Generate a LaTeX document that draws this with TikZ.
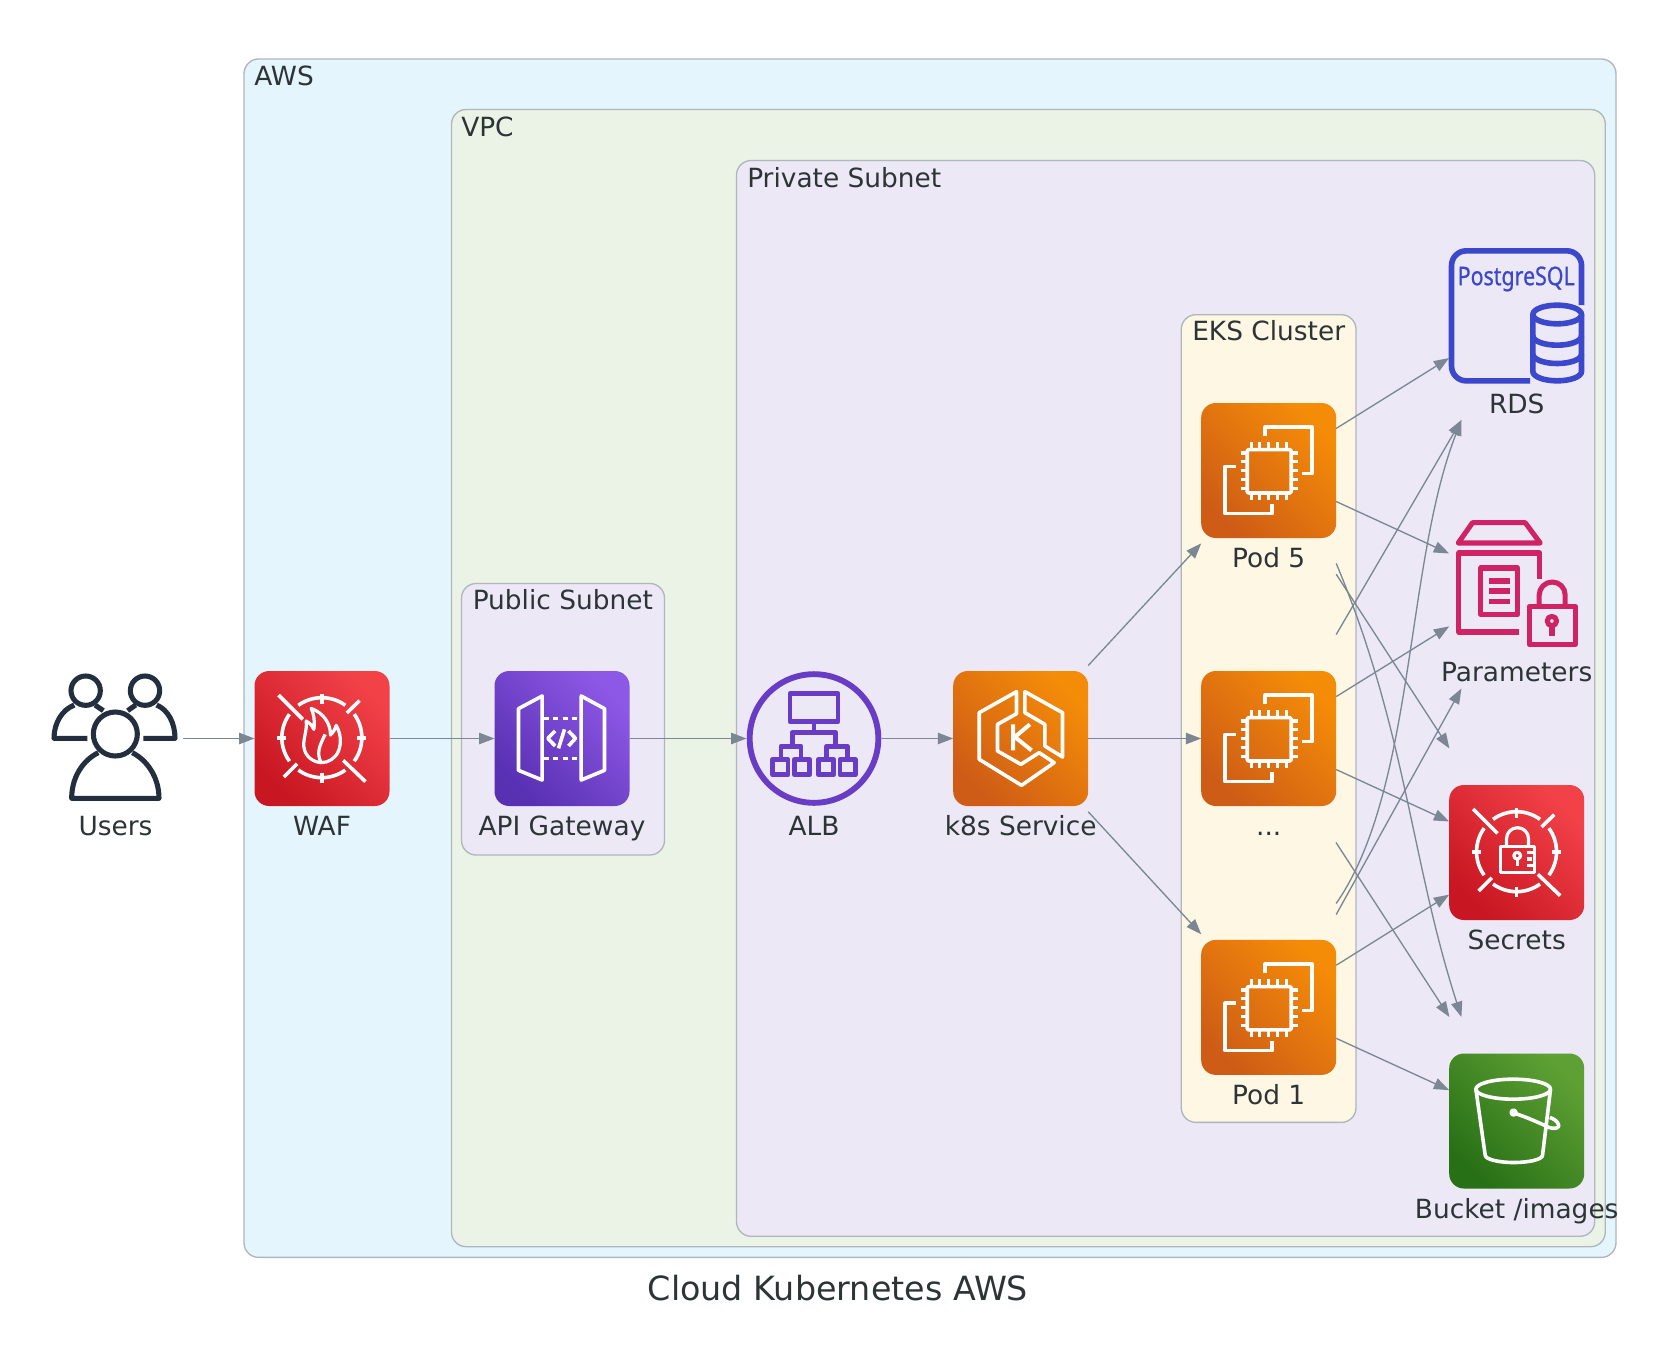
\documentclass[tikz,border=0pt]{standalone}
\usepackage{fontspec}
\setmainfont{DejaVu Sans}
\newfontfamily\pgfont[FakeBold=0.8]{Noto Sans}
\usetikzlibrary{arrows.meta}
\definecolor{inktext}{HTML}{2D3436}
\definecolor{flowline}{HTML}{7B8894}
\definecolor{groupline}{HTML}{AEB6BE}
\definecolor{awsbg}{HTML}{E5F5FD}
\definecolor{vpcbg}{HTML}{EBF3E7}
\definecolor{subnetbg}{HTML}{ECE8F6}
\definecolor{eksbg}{HTML}{FDF7E3}
\definecolor{usersink}{HTML}{232F3E}
\definecolor{albink}{HTML}{693CC5}
\definecolor{rdsink}{HTML}{3B48CC}
\definecolor{paramink}{HTML}{CF2366}
\definecolor{redlow}{RGB}{200,22,34}
\definecolor{redhigh}{RGB}{242,66,72}
\definecolor{orangelow}{RGB}{206,92,22}
\definecolor{orangehigh}{RGB}{245,140,8}
\definecolor{purplelow}{RGB}{88,48,178}
\definecolor{purplehigh}{RGB}{142,88,230}
\definecolor{greenlow}{RGB}{40,112,22}
\definecolor{greenhigh}{RGB}{94,160,52}
\tikzset{
    hold/.style={rectangle,minimum width=101.25pt,minimum height=156pt,inner sep=0pt,outer sep=0pt},
    iconlbl/.style={anchor=base,inner sep=0pt,text=inktext,font=\fontsize{19.8pt}{24pt}\selectfont},
    grouplbl/.style={anchor=base west,inner sep=0pt,text=inktext,font=\fontsize{19.8pt}{24pt}\selectfont},
    groupbox/.style={draw=groupline,line width=1pt,rounded corners=11pt},
    flow/.style={draw=flowline,line width=1pt,-{Triangle[length=11.5pt,width=8.5pt]}},
    glyph/.style={x=.25pt,y=-.25pt,shift={(-202.5,-202.5)}},
    wline/.style={draw=white,line width=2.7pt,line join=round},
    redtile/.style={rounded corners=11pt,bottom color=redlow,top color=redhigh,shading angle=-45},
    orangetile/.style={rounded corners=11pt,bottom color=orangelow,top color=orangehigh,shading angle=-45},
    purpletile/.style={rounded corners=11pt,bottom color=purplelow,top color=purplehigh,shading angle=-45},
    greentile/.style={rounded corners=11pt,bottom color=greenlow,top color=greenhigh,shading angle=-45},
    reticle/.pic={
        \foreach \a in {0,90,180,270}
            \draw[wline] (202,200) ++(\a-36:120) arc[start angle=\a-36,end angle=\a+36,radius=120];
        \draw[wline] (202,68) -- (202,98) (202,305) -- (202,335) (68,201) -- (95,201) (308,201) -- (335,201);
        \draw[wline] (72,72) -- (145,145) (266,268) -- (333,332) (277,126) -- (315,89) (88,318) -- (128,278);
    },
    usersicon/.pic={
        \begin{scope}[x=.25pt,y=-.25pt,shift={(-211.5,-205.5)},draw=usersink,line width=3.8pt,line join=round]
            \draw (122,62) circle (44);
            \draw (300,62) circle (44);
            \draw (211,192) circle (66);
            \draw (127,205) -- (27,205) .. controls (27,160) and (50,120) .. (88,105);
            \draw (150,105) -- (175,122);
            \draw (295,205) -- (390,205) .. controls (390,160) and (370,120) .. (335,105);
            \draw (272,105) -- (248,122);
            \draw (160,248) .. controls (115,270) and (80,320) .. (80,385) -- (342,385) .. controls (342,320) and (305,270) .. (262,248);
        \end{scope}
    },
    wafflame/.pic={
        \begin{scope}[glyph]
            \shade[redtile] (0,0) rectangle (405,405);
            \pic {reticle};
            \draw[wline,line width=2.4pt] (200,275) .. controls (165,272) and (145,245) .. (148,215) .. controls (150,190) and (158,175) .. (155,150) .. controls (168,158) and (175,165) .. (178,175) .. controls (182,150) and (178,130) .. (170,112) .. controls (205,125) and (228,155) .. (228,192) .. controls (235,185) and (242,175) .. (245,163) .. controls (258,185) and (262,215) .. (252,240) .. controls (243,262) and (222,275) .. (200,275) -- cycle;
            \draw[wline,line width=2.4pt] (200,275) .. controls (185,245) and (195,225) .. (212,190);
        \end{scope}
    },
    apidoors/.pic={
        \begin{scope}[glyph]
            \shade[purpletile] (0,0) rectangle (405,405);
            \draw[wline] (143,75) -- (72,113) -- (72,298) -- (143,327) -- cycle;
            \draw[wline] (260,75) -- (330,113) -- (330,298) -- (260,327) -- cycle;
            \draw[wline,dash pattern=on 3.75pt off 3.4pt] (148,143) -- (258,143);
            \draw[wline,dash pattern=on 3.75pt off 3.4pt] (148,262) -- (258,262);
            \draw[wline] (182,180) -- (160,202) -- (182,225);
            \draw[wline] (222,180) -- (243,202) -- (222,225);
            \draw[wline] (210,175) -- (192,232);
        \end{scope}
    },
    albtree/.pic={
        \begin{scope}[glyph,draw=albink,line width=3.6pt,line join=round]
            \draw[line width=4.4pt] (202.5,202.5) circle (193);
            \draw (130.5,67.5) rectangle (274.5,152.5);
            \draw (202.5,152.5) -- (202.5,184.5);
            \draw (137.5,225.5) -- (137.5,184.5) -- (267.5,184.5) -- (267.5,225.5);
            \draw (103.5,265.5) -- (103.5,225.5) -- (163.5,225.5) -- (163.5,265.5);
            \draw (240.5,265.5) -- (240.5,225.5) -- (302.5,225.5) -- (302.5,265.5);
            \foreach \x in {78.5,143.5,215.5,280.5}
                \draw (\x,265.5) rectangle ++(46,46);
        \end{scope}
    },
    k8shex/.pic={
        \begin{scope}[glyph]
            \shade[orangetile] (0,0) rectangle (405,405);
            \draw[wline] (190,62) -- (78,125) -- (78,265) -- (205,343) -- (303,275) -- (258,245) -- (203,280) -- (133,240) -- (133,160) -- (190,128) -- cycle;
            \draw[wline] (215,62) -- (328,125) -- (328,258) -- (275,225) -- (275,160) -- (215,125) -- cycle;
            \draw[wline,line width=3pt] (180,160) -- (180,238) (230,160) -- (185,198) -- (235,238);
        \end{scope}
    },
    podchip/.pic={
        \begin{scope}[glyph]
            \shade[orangetile] (0,0) rectangle (405,405);
            \draw[wline,rounded corners=1pt] (138,140) rectangle (270,270);
            \foreach \i in {150,176,203,229,256} {
                \draw[wline,line width=2.4pt] (\i,118) -- (\i,140) (\i,270) -- (\i,292);
                \draw[wline,line width=2.4pt] (118,\i) -- (138,\i) (270,\i) -- (290,\i);
            }
            \draw[wline] (192,100) -- (192,72) -- (333,72) -- (333,212) -- (302,212);
            \draw[wline] (105,190) -- (72,190) -- (72,332) -- (213,332) -- (213,302);
        \end{scope}
    },
    rdscan/.pic={
        \begin{scope}[glyph,draw=rdsink,line width=4.2pt,line join=round]
            \draw[rounded corners=11pt] (243,397) -- (7,397) -- (7,7) -- (397,7) -- (397,170);
            \node[inner sep=0pt,anchor=base,xscale=.83,text=rdsink,font=\pgfont\fontsize{19.3pt}{23pt}\selectfont] (pgname) at (201,110) {PostgreSQL};
            \draw (324,198) ellipse (73 and 28);
            \draw (251,198) -- (251,369) arc[start angle=180,end angle=0,x radius=73,y radius=28] -- (397,198);
            \draw (251,262) arc[start angle=180,end angle=0,x radius=73,y radius=28];
            \draw (251,317) arc[start angle=180,end angle=0,x radius=73,y radius=28];
        \end{scope}
    },
    paramstore/.pic={
        \begin{scope}[glyph,draw=paramink,line width=3.8pt,line join=round]
            \draw (70,17) -- (228,17) -- (273,78) -- (27,78) -- cycle;
            \draw (210,345) -- (29,345) -- (29,108) -- (272,108) -- (272,185);
            \draw (95,153) rectangle (205,293);
            \draw[line width=4pt] (120,192) -- (182,192) (120,222) -- (182,222) (120,254) -- (182,254);
            \draw (240,268) rectangle (378,383);
            \draw (270,268) -- (270,234) arc[start angle=180,end angle=360,radius=39] -- (348,268);
            \draw (308,312) circle (14);
            \draw[line width=4pt] (308,325) -- (308,358);
        \end{scope}
    },
    secretlock/.pic={
        \begin{scope}[glyph]
            \shade[redtile] (0,0) rectangle (405,405);
            \pic {reticle};
            \draw[wline,line width=2.4pt] (153,185) rectangle (257,262);
            \draw[wline,line width=2.4pt] (172,185) -- (172,161) arc[start angle=180,end angle=360,radius=33] -- (238,185);
            \draw[wline,line width=2.4pt] (204,212) circle (10);
            \draw[wline,line width=2.4pt] (204,222) -- (204,242);
            \draw[wline,line width=2.4pt] (232,203) -- (257,203) (232,222) -- (248,222) (232,241) -- (257,241);
        \end{scope}
    },
    bucketpail/.pic={
        \begin{scope}[glyph]
            \shade[greentile] (0,0) rectangle (405,405);
            \draw[wline] (192,107) ellipse (112 and 30);
            \draw[wline] (80,107) -- (108,305) arc[start angle=180,end angle=0,x radius=86,y radius=22] -- (304,107);
            \draw[wline] (193,177) circle (7);
            \draw[wline] (198,180) .. controls (230,190) and (270,208) .. (300,222) .. controls (320,228) and (332,222) .. (328,213) .. controls (325,203) and (312,195) .. (302,192);
        \end{scope}
    }
}
\begin{document}
\begin{tikzpicture}[x=.75pt,y=-.75pt]
    \useasboundingbox (0,0) rectangle (1675,1364);
    \path[groupbox,fill=awsbg] (244,59) rectangle (1616,1257.4);
    \path[groupbox,fill=vpcbg] (451.5,109.5) rectangle (1605.3,1246.7);
    \path[groupbox,fill=subnetbg] (736.5,160.5) rectangle (1594.7,1236.3);
    \path[groupbox,fill=subnetbg] (461.5,583.5) rectangle (664.5,855);
    \path[groupbox,fill=eksbg] (1181.3,314.7) rectangle (1356,1122.4);
    \node[grouplbl] (awslbl) at (254,85) {AWS};
    \node[grouplbl] (vpclbl) at (461,136) {VPC};
    \node[grouplbl] (privatelbl) at (747,187) {Private Subnet};
    \node[grouplbl] (publiclbl) at (472.5,609) {Public Subnet};
    \node[grouplbl] (ekslbl) at (1192,340) {EKS Cluster};

    \node[hold] (users) at (115.5,738.5) {};
    \node[hold] (waf) at (322,738.5) {};
    \node[hold] (api) at (562,738.5) {};
    \node[hold] (alb) at (814,738.5) {};
    \node[hold] (k8s) at (1020.7,738.5) {};
    \node[hold] (pod5) at (1268.7,470.5) {};
    \node[hold] (podmid) at (1268.7,738.5) {};
    \node[hold] (pod1) at (1268.7,1007.4) {};
    \node[hold] (rds) at (1516.7,316) {};
    \node[hold] (params) at (1516.7,584.5) {};
    \node[hold] (secrets) at (1516.7,852.5) {};
    \node[hold] (bucket) at (1516.7,1121) {};

    \pic at (users) {usersicon};
    \pic at (waf) {wafflame};
    \pic at (api) {apidoors};
    \pic at (alb) {albtree};
    \pic at (k8s) {k8shex};
    \pic at (pod5) {podchip};
    \pic at (podmid) {podchip};
    \pic at (pod1) {podchip};
    \pic at (rds) {rdscan};
    \pic at (params) {paramstore};
    \pic at (secrets) {secretlock};
    \pic at (bucket) {bucketpail};

    \node[iconlbl] (userslbl) at ([yshift=-73pt]users.center) {Users};
    \node[iconlbl] (waflbl) at ([yshift=-73pt]waf.center) {WAF};
    \node[iconlbl] (apilbl) at ([yshift=-73pt]api.center) {API Gateway};
    \node[iconlbl] (alblbl) at ([yshift=-73pt]alb.center) {ALB};
    \node[iconlbl] (k8slbl) at ([yshift=-73pt]k8s.center) {k8s Service};
    \node[iconlbl] (pod5lbl) at ([yshift=-73pt]pod5.center) {Pod 5};
    \node[iconlbl] (podmidlbl) at ([yshift=-73pt]podmid.center) {...};
    \node[iconlbl] (pod1lbl) at ([yshift=-73pt]pod1.center) {Pod 1};
    \node[iconlbl] (rdslbl) at ([yshift=-73pt]rds.center) {RDS};
    \node[iconlbl] (paramslbl) at ([yshift=-73pt]params.center) {Parameters};
    \node[iconlbl] (secretslbl) at ([yshift=-73pt]secrets.center) {Secrets};
    \node[iconlbl] (bucketlbl) at ([yshift=-73pt]bucket.center) {Bucket /images};

    \draw[flow] (users) -- (waf);
    \draw[flow] (waf) -- (api);
    \draw[flow] (api) -- (alb);
    \draw[flow] (alb) -- (k8s);
    \draw[flow] (k8s) -- (pod5);
    \draw[flow] (k8s) -- (podmid);
    \draw[flow] (k8s) -- (pod1);
    \draw[flow] (pod5) -- (rds);
    \draw[flow] (pod5) -- (params);
    \draw[flow] (pod5) -- (secrets);
    \draw[flow] (pod5.-54) .. controls (1406,730) and (1411,861) .. (bucket.118);
    \draw[flow] (podmid.57) -- (rds.-118);
    \draw[flow] (podmid) -- (params);
    \draw[flow] (podmid) -- (secrets);
    \draw[flow] (podmid) -- (bucket);
    \draw[flow] (pod1.57) .. controls (1415,790) and (1405,565) .. (rds.-118);
    \draw[flow] (pod1.54) -- (params.-118);
    \draw[flow] (pod1) -- (secrets);
    \draw[flow] (pod1) -- (bucket);

    \node[anchor=base,inner sep=0pt,text=inktext,font=\fontsize{25pt}{30pt}\selectfont] (title) at (838,1300.5) {Cloud Kubernetes AWS};
\end{tikzpicture}
\end{document}
